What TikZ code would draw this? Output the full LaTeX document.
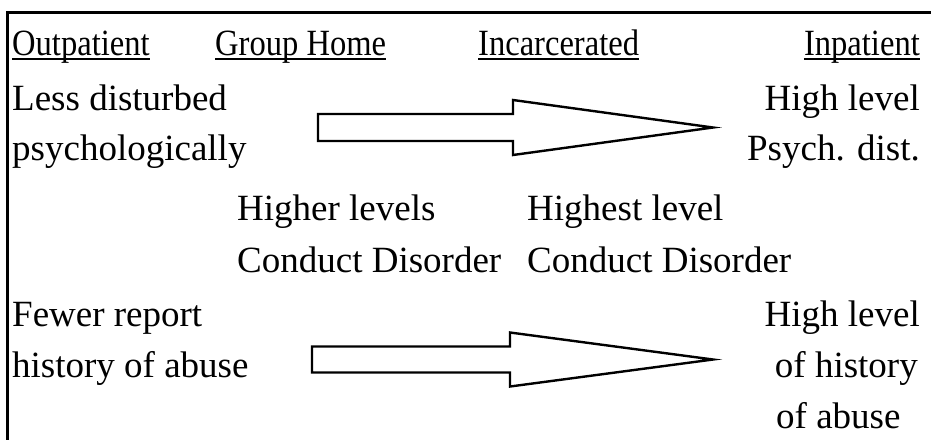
\documentclass[tikz,border=0pt]{standalone}
\usepackage{fontspec}
\setmainfont{Liberation Serif}
\newfontfamily\headfont[FakeStretch=0.88]{Liberation Serif}
\usepackage{tikz}
\usetikzlibrary{positioning}
\tikzset{
  txt/.style={inner sep=0pt,font=\fontsize{37}{42}\selectfont},
  lft/.style={txt,anchor=base west},
  rgt/.style={txt,anchor=base east},
  colhead/.style={lft,font=\fontsize{37}{42}\headfont},
  uline/.style={line width=1.6pt},
  frameline/.style={line width=3pt},
  blockarr/.style={draw,line width=2.4pt,line join=miter,fill=white}
}
% block arrow: tail x, mid y, notch x, tip x, shaft half, head half
\newcommand{\blockarrow}[6]{%
  \draw[blockarr] (#1,#2-#5) -- (#3,#2-#5) -- (#3,#2-#6) -- (#4,#2)
    -- (#3,#2+#6) -- (#3,#2+#5) -- (#1,#2+#5) -- cycle;}
\begin{document}
\begin{tikzpicture}[x=1pt,y=-1pt]
  \useasboundingbox (0,0) rectangle (931,440);
  \draw[frameline] (931,12) -- (7,12) -- (7,440);

  % column heads
  \node[colhead] (outp) at (12,55) {Outpatient};
  \node[colhead] (grph) at (215,55) {Group Home};
  \node[colhead] (incar) at (478,55) {Incarcerated};
  \node[colhead,anchor=base east] (inp) at (920,55) {Inpatient};
  \foreach \n in {outp,grph,incar,inp}
    \draw[uline] ([yshift=-4pt]\n.base west) -- ([yshift=-4pt]\n.base east);

  % psychological disturbance
  \node[lft] (less) at (12,110) {Less disturbed};
  \node[lft] (psy) at (12,160) {psychologically};
  \node[rgt] (high1) at (920,110) {High level};
  \node[rgt] (pdist) at (920,160) {Psych. dist.};
  \blockarrow{318}{127.5}{513}{713}{13.5}{27.5}

  % conduct disorder
  \node[lft] (higher) at (237,220) {Higher levels};
  \node[lft] (cd1) at (237,272) {Conduct Disorder};
  \node[lft] (highest) at (527,220) {Highest level};
  \node[lft] (cd2) at (527,272) {Conduct Disorder};

  % abuse
  \node[lft] (fewer) at (12,326) {Fewer report};
  \node[lft] (hist) at (12,377) {history of abuse};
  \node[rgt] (high2) at (920,326) {High level};
  \node[rgt] (ofhist) at (918,377) {of history};
  \node[lft] (ofab) at (776,428) {of abuse};
  \blockarrow{312}{359.5}{510}{713}{13}{27}
\end{tikzpicture}
\end{document}
